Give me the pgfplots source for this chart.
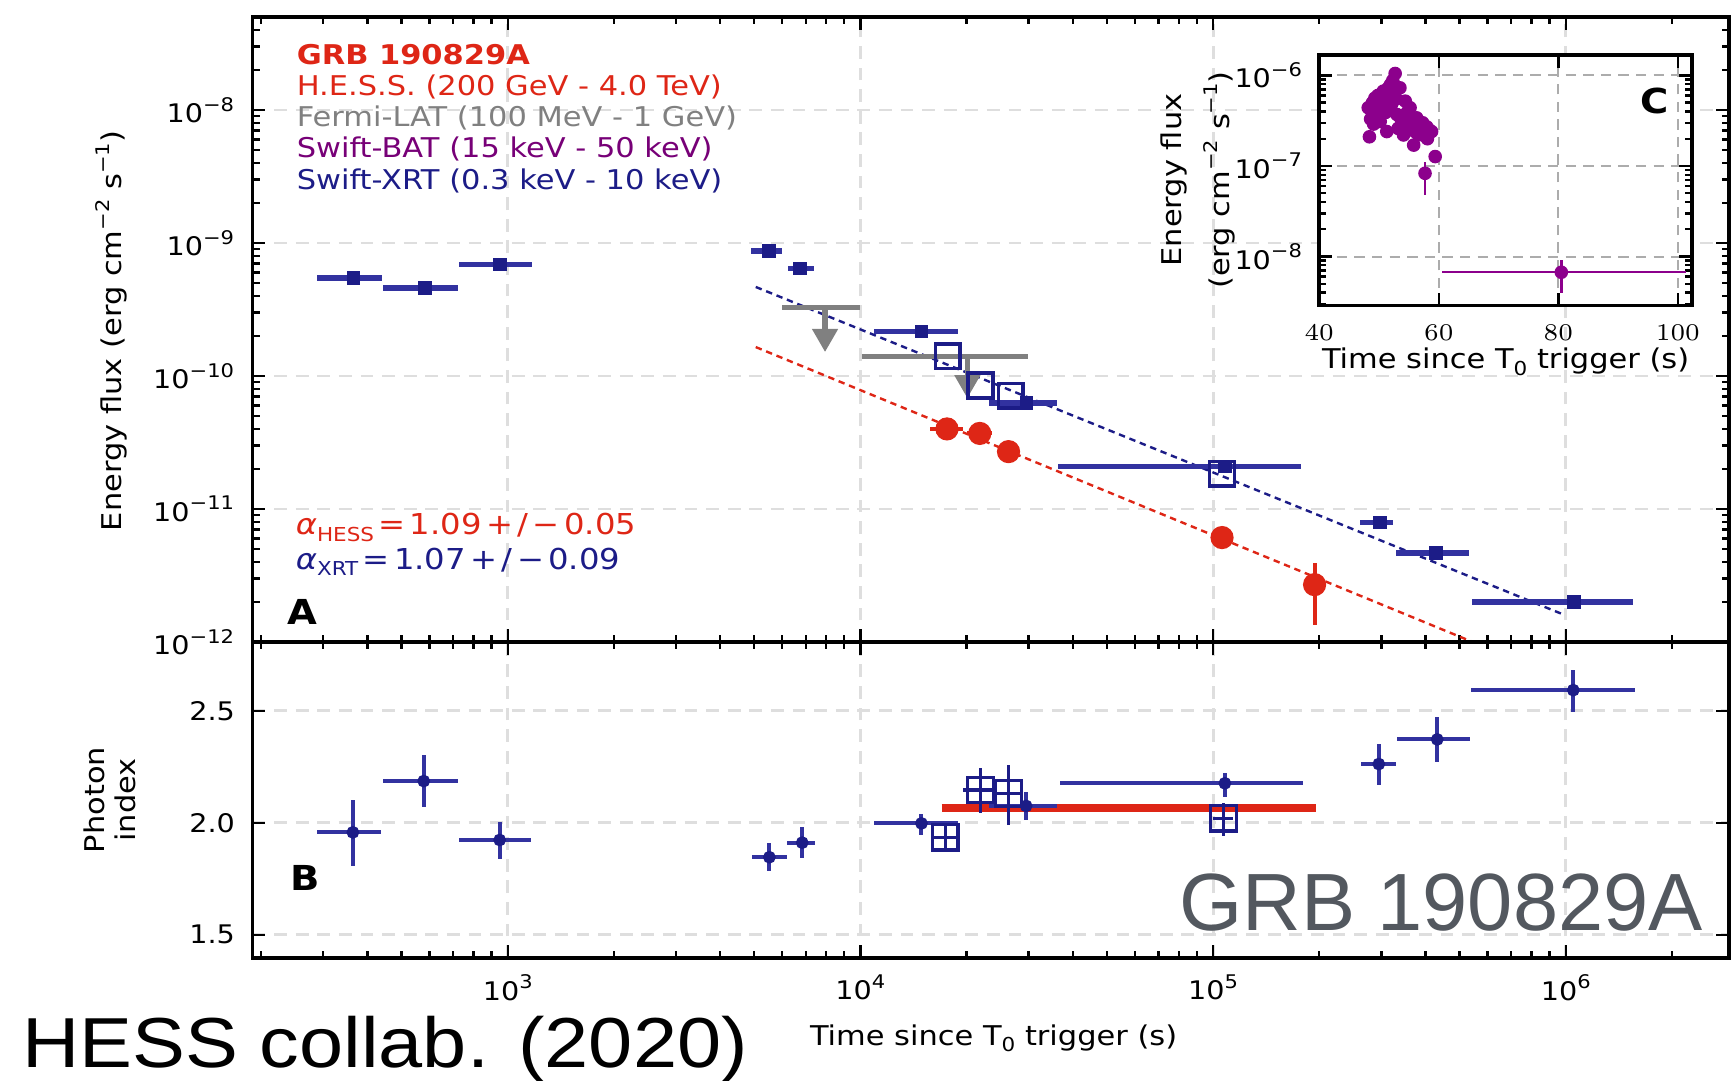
\documentclass[border=0pt]{standalone}
\usepackage{fontspec}
\setmainfont{DejaVu Sans}[FakeStretch=1.12]
\newfontfamily\helv{Liberation Sans}
\newfontfamily\helvwide{Liberation Sans}[FakeStretch=1.12]
\usepackage{pgfplots}
\pgfplotsset{compat=1.18}
\definecolor{xrt}{RGB}{28,28,135}
\definecolor{xrtbar}{RGB}{50,50,160}
\definecolor{hess}{RGB}{222,38,22}
\definecolor{lat}{RGB}{128,128,128}
\definecolor{bat}{RGB}{140,0,140}
\definecolor{grbgrey}{RGB}{83,88,95}
\definecolor{gridc}{RGB}{222,222,222}
\newcommand{\sups}[1]{\raisebox{0.45em}{\fontsize{4.7}{5}\selectfont #1}}
\newcommand{\subs}[1]{\raisebox{-0.25em}{\fontsize{4.8}{5}\selectfont #1}}
\newcommand{\subsb}[1]{\raisebox{-0.22em}{\fontsize{4.8}{6}\selectfont #1}}
\newcommand{\ticklab}{\fontsize{6.4}{7}\selectfont}
\newcommand{\labf}{\fontsize{6.8}{7.6}\selectfont}
\newcommand{\gp}{\hspace{1.1pt}}
\begin{document}
\begin{tikzpicture}
\useasboundingbox (0,0) rectangle (432.75pt,270pt);
% ---------------- Panel A ----------------
\begin{axis}[scale only axis, xmode=log, ymode=log,
  at={(63.125pt,109.5pt)}, anchor=south west,
  width=369.1pt, height=156.25pt,
  axis line style={line width=0.9pt},
  tick style={black, line width=0.6pt},
  major tick length=3.2pt, minor tick length=1.8pt,
  tick align=inside, xtick pos=both, ytick pos=both,
  grid=major,
  major grid style={gridc, line width=0.7pt, dash pattern=on 3.2pt off 2.2pt},
  tick label style={font=\ticklab},
  xmin=189, xmax=2.9e6,
  xtick={1e3,1e4,1e5,1e6},
  minor xtick={200,300,400,500,600,700,800,900,2000,3000,4000,5000,6000,7000,8000,9000,2e4,3e4,4e4,5e4,6e4,7e4,8e4,9e4,2e5,3e5,4e5,5e5,6e5,7e5,8e5,9e5,2e6},
  ymin=1e-12, ymax=5e-8,
  ytick={1e-12,1e-11,1e-10,1e-9,1e-8},
  yticklabels={10\sups{−12},10\sups{−11},10\sups{−10},10\sups{−9},10\sups{−8}},
  minor ytick={2e-12,3e-12,4e-12,5e-12,6e-12,7e-12,8e-12,9e-12,2e-11,3e-11,4e-11,5e-11,6e-11,7e-11,8e-11,9e-11,2e-10,3e-10,4e-10,5e-10,6e-10,7e-10,8e-10,9e-10,2e-9,3e-9,4e-9,5e-9,6e-9,7e-9,8e-9,9e-9,2e-8,3e-8,4e-8},
  yticklabel style={anchor=east, inner sep=0pt, xshift=-4.4pt},
  xticklabels={}]
% fits
\addplot[xrt, line width=0.6pt, dash pattern=on 1.6pt off 1.2pt] coordinates {(5050,4.67e-10) (9.9e5,1.6e-12)};
\addplot[hess, line width=0.6pt, dash pattern=on 1.6pt off 1.2pt] coordinates {(5050,1.65e-10) (6e5,9.0e-13)};
% Fermi-LAT upper limits
\addplot[lat, line width=1.3pt] coordinates {(6000,3.26e-10) (9950,3.26e-10)};
\addplot[lat, line width=1.3pt] coordinates {(7940,3.26e-10) (7940,2.25e-10)};
\addplot[lat, only marks, mark=triangle*, mark size=3.4pt, mark options={rotate=180}] coordinates {(7940,1.98e-10)};
\addplot[lat, line width=1.3pt] coordinates {(10100,1.41e-10) (29900,1.41e-10)};
\addplot[lat, line width=1.3pt] coordinates {(20100,1.41e-10) (20100,1.0e-10)};
\addplot[lat, only marks, mark=triangle*, mark size=3.4pt, mark options={rotate=180}] coordinates {(20100,8.9e-11)};
% XRT flux
\addplot[only marks, mark=square*, mark size=1.5pt, xrt,
  error bars/.cd, x dir=both, x explicit, error mark=none,
  error bar style={line width=1.4pt, xrtbar}]
coordinates {
 (365,5.47e-10) += (75,0) -= (78,0)
 (582,4.57e-10) += (143,0) -= (139,0)
 (952,6.88e-10) += (218,0) -= (222,0)
 (5500,8.7e-10) += (500,0) -= (600,0)
 (6750,6.41e-10) += (650,0) -= (500,0)
 (14900,2.16e-10) += (4000,0) -= (4000,0)
 (29600,6.27e-11) += (6500,0) -= (6500,0)
 (108000,2.08e-11) += (70000,0) -= (71700,0)
 (297000,7.9e-12) += (26000,0) -= (36000,0)
 (429000,4.68e-12) += (101000,0) -= (98000,0)
 (1.053e6,2.0e-12) += (4.97e5,0) -= (5.11e5,0)
};
\addplot[only marks, mark=square, mark size=3.1pt, xrt, line width=0.9pt]
coordinates {(17700,1.41e-10) (21900,8.5e-11) (26700,7.1e-11) (106000,1.84e-11)};
% HESS
\addplot[only marks, mark=*, mark size=2.7pt, hess,
  error bars/.cd, x dir=both, x explicit, y dir=both, y explicit, error mark=none,
  error bar style={line width=1pt, hess}]
coordinates {
 (17600,4.0e-11) +- (1900,4.5e-12)
 (21800,3.7e-11) +- (1800,4e-12)
 (26300,2.7e-11) +- (1300,3.2e-12)
 (106000,6.1e-12) +- (3000,1e-12)
 (194000,2.7e-12) += (3000,1.2e-12) -= (3000,1.35e-12)
};
\end{axis}
% ---------------- Panel B ----------------
\begin{axis}[scale only axis, xmode=log,
  at={(63.125pt,30.5pt)}, anchor=south west,
  width=369.1pt, height=79pt,
  axis line style={line width=0.9pt},
  tick style={black, line width=0.6pt},
  major tick length=3.2pt, minor tick length=1.8pt,
  tick align=inside, xtick pos=both, ytick pos=both,
  grid=major,
  major grid style={gridc, line width=0.7pt, dash pattern=on 3.2pt off 2.2pt},
  tick label style={font=\ticklab},
  xmin=189, xmax=2.9e6,
  xtick={1e3,1e4,1e5,1e6},
  minor xtick={200,300,400,500,600,700,800,900,2000,3000,4000,5000,6000,7000,8000,9000,2e4,3e4,4e4,5e4,6e4,7e4,8e4,9e4,2e5,3e5,4e5,5e5,6e5,7e5,8e5,9e5,2e6},
  xticklabels={10\sups{3},10\sups{4},10\sups{5},10\sups{6}},
  xticklabel style={yshift=-0.6pt},
  ymin=1.396, ymax=2.807,
  ytick={1.5,2.0,2.5}, yticklabels={1.5,2.0,2.5},
  yticklabel style={anchor=east, inner sep=0pt, xshift=-4.2pt}]
\addplot[hess, line width=2pt] coordinates {(17000,2.066) (196000,2.066)};
\addplot[only marks, mark=*, mark size=1.4pt, xrt,
  error bars/.cd, x dir=both, x explicit, y dir=both, y explicit, error mark=none,
  error bar style={line width=1pt, xrtbar}]
coordinates {
 (364,1.957) += (72,0.144) -= (76,0.150)
 (578,2.186) += (146,0.116) -= (135,0.116)
 (949,1.923) += (217,0.081) -= (221,0.084)
 (5520,1.846) += (660,0.063) -= (590,0.060)
 (6840,1.911) += (610,0.068) -= (660,0.070)
 (14900,1.997) += (4000,0.043) -= (4000,0.052)
 (29500,2.075) += (6600,0.063) -= (6400,0.063)
 (108000,2.176) += (72000,0.047) -= (71300,0.060)
 (295000,2.262) += (34000,0.089) -= (33000,0.092)
 (432000,2.372) += (103000,0.101) -= (100000,0.100)
 (1.05e6,2.592) += (5.2e5,0.090) -= (5.12e5,0.096)
};
\addplot[only marks, mark=square, mark size=3.2pt, xrt, line width=0.8pt,
  error bars/.cd, x dir=both, x explicit, y dir=both, y explicit, error mark=none,
  error bar style={line width=0.8pt, xrt}]
coordinates {
 (17400,1.935) += (1500,0.065) -= (1400,0.065)
 (21900,2.146) += (2400,0.097) -= (2400,0.103)
 (26300,2.131) += (2200,0.127) -= (2200,0.141)
 (107000,2.02) += (7000,0.069) -= (7000,0.079)
};
\end{axis}
% ---------------- Inset C ----------------
\begin{axis}[scale only axis, at={(329.8pt,193.6pt)}, anchor=south west,
  width=93.25pt, height=62.7pt,
  xmin=40, xmax=102.4, ymode=log, ymin=2.87e-9, ymax=1.69e-6,
  axis background/.style={fill=white},
  axis line style={line width=0.9pt},
  tick style={black, line width=0.6pt},
  major tick length=3.2pt, minor tick length=1.8pt,
  tick align=inside, xtick pos=both, ytick pos=both,
  grid=major,
  major grid style={gray!65, line width=0.5pt, dash pattern=on 2.6pt off 1.8pt},
  tick label style={font=\ticklab},
  xtick={40,60,80,100},
  ytick={1e-8,1e-7,1e-6},
  yticklabels={10\sups{−8},10\sups{−7},10\sups{−6}},
  minor ytick={3e-9,4e-9,5e-9,6e-9,7e-9,8e-9,9e-9,2e-8,3e-8,4e-8,5e-8,6e-8,7e-8,8e-8,9e-8,2e-7,3e-7,4e-7,5e-7,6e-7,7e-7,8e-7,9e-7},
  yticklabel style={anchor=east, inner sep=0pt, xshift=-4.1pt},
  xticklabel style={yshift=-1.4pt}]
\addplot[only marks, mark=*, mark size=1.5pt, bat,
  error bars/.cd, y dir=both, y explicit relative, error mark=none,
  error bar style={line width=0.6pt, bat}]
coordinates {
 (48.2,4.4e-7) +- (0,0.15) (48.4,2.1e-7) +- (0,0.15) (48.6,3.3e-7) +- (0,0.15)
 (48.9,5.0e-7) +- (0,0.15) (49.1,2.9e-7) +- (0,0.15) (49.3,5.6e-7) +- (0,0.15)
 (49.5,4.0e-7) +- (0,0.15) (49.8,6.0e-7) +- (0,0.15) (50.0,3.4e-7) +- (0,0.15)
 (50.2,3.1e-7) +- (0,0.15) (50.5,4.8e-7) +- (0,0.15) (50.7,6.7e-7) +- (0,0.15)
 (50.9,5.5e-7) +- (0,0.15) (51.1,3.9e-7) +- (0,0.15) (51.3,2.4e-7) +- (0,0.15)
 (51.5,7.2e-7) +- (0,0.15) (51.7,4.4e-7) +- (0,0.15) (51.9,7.9e-7) +- (0,0.15)
 (52.1,4.8e-7) +- (0,0.15) (52.3,8.8e-7) +- (0,0.15) (52.5,6.3e-7) +- (0,0.15)
 (52.7,1.05e-6) +- (0,0.12) (52.9,5.5e-7) +- (0,0.15) (53.0,3.7e-7) +- (0,0.15)
 (53.2,2.6e-7) +- (0,0.15) (53.5,7.3e-7) +- (0,0.15) (53.7,3.3e-7) +- (0,0.15)
 (54.1,2.2e-7) +- (0,0.15) (54.4,5.2e-7) +- (0,0.15) (54.7,3.9e-7) +- (0,0.15)
 (55.0,2.8e-7) +- (0,0.15) (55.2,4.4e-7) +- (0,0.15) (55.5,3.1e-7) +- (0,0.15)
 (55.8,1.7e-7) +- (0,0.15) (56.0,2.4e-7) +- (0,0.15) (56.3,3.4e-7) +- (0,0.15)
 (56.6,2.2e-7) +- (0,0.15) (56.9,2.6e-7) +- (0,0.15) (57.3,3.0e-7) +- (0,0.15)
 (57.6,2.2e-7) +- (0,0.15) (58.0,2.7e-7) +- (0,0.15) (58.1,2.0e-7) +- (0,0.15)
 (58.4,2.5e-7) +- (0,0.15) (58.8,2.4e-7) +- (0,0.15) (59.4,1.27e-7) +- (0,0.15)
 (57.7,8.3e-8) += (0,0.33) -= (0,0.43)
};
\addplot[only marks, mark=*, mark size=1.5pt, bat,
  error bars/.cd, x dir=both, x explicit, y dir=both, y explicit, error mark=none,
  error bar style={line width=0.6pt, bat}]
coordinates {(80.5,6.7e-9) += (20.8,2.4e-9) -= (20.0,2.7e-9)};
\end{axis}
% ---------------- labels ----------------
\node[rotate=90, font=\labf] at (27.75pt,187.25pt) {Energy flux (erg cm\sups{−2} s\sups{−1})};
\node[rotate=90, font=\labf, align=center] at (27.5pt,70pt) {Photon\\index};
\node[font=\labf, anchor=base] at (248.4pt,8.75pt) {Time since T\subs{0} trigger (s)};
\node[rotate=90, font=\labf] at (293.5pt,225pt) {Energy flux};
\node[rotate=90, font=\labf] at (304.75pt,225pt) {(erg cm\sups{−2} s\sups{−1})};
\node[font=\labf, anchor=base] at (376.4pt,177.9pt) {Time since T\subs{0} trigger (s)};
% legend text
\node[anchor=base west, inner sep=0, font=\fontsize{6.8}{8}\bfseries\selectfont, text=hess] at (74pt,253.9pt) {GRB 190829A};
\node[anchor=base west, inner sep=0, font=\fontsize{6.8}{8}\selectfont, text=hess] at (74pt,246.1pt) {H.E.S.S. (200 GeV - 4.0 TeV)};
\node[anchor=base west, inner sep=0, font=\fontsize{6.8}{8}\selectfont, text=lat] at (74pt,238.3pt) {Fermi-LAT (100 MeV - 1 GeV)};
\node[anchor=base west, inner sep=0, font=\fontsize{6.8}{8}\selectfont, text=bat!85!black] at (74pt,230.5pt) {Swift-BAT (15 keV - 50 keV)};
\node[anchor=base west, inner sep=0, font=\fontsize{6.8}{8}\selectfont, text=xrt] at (74pt,222.7pt) {Swift-XRT (0.3 keV - 10 keV)};
% slopes
\node[anchor=base west, inner sep=0, font=\fontsize{7.2}{8}\selectfont, text=hess] at (73.75pt,136.25pt) {\textit{α}\subsb{HESS}\gp=\gp1.09\gp+\gp/\gp−\gp0.05};
\node[anchor=base west, inner sep=0, font=\fontsize{7.2}{8}\selectfont, text=xrt] at (73.75pt,127.7pt) {\textit{α}\subsb{XRT}\gp=\gp1.07\gp+\gp/\gp−\gp0.09};
% panel letters
\node[anchor=base west, inner sep=0, font=\fontsize{8.6}{9}\bfseries\selectfont] at (71.7pt,113.75pt) {A};
\node[anchor=base west, inner sep=0, font=\fontsize{8.6}{9}\bfseries\selectfont] at (72.5pt,47.3pt) {B};
\node[anchor=base west, inner sep=0, font=\fontsize{8.6}{9}\bfseries\selectfont] at (410pt,241.7pt) {C};
% big annotations
\node[anchor=base west, inner sep=0, font=\helv\fontsize{20.3}{22}\selectfont, text=grbgrey] at (294.6pt,37.3pt) {GRB 190829A};
\node[anchor=base west, inner sep=0, font=\helvwide\fontsize{17.7}{20}\selectfont] at (5.3pt,3.2pt) {HESS collab. (2020)};
\end{tikzpicture}
\end{document}
